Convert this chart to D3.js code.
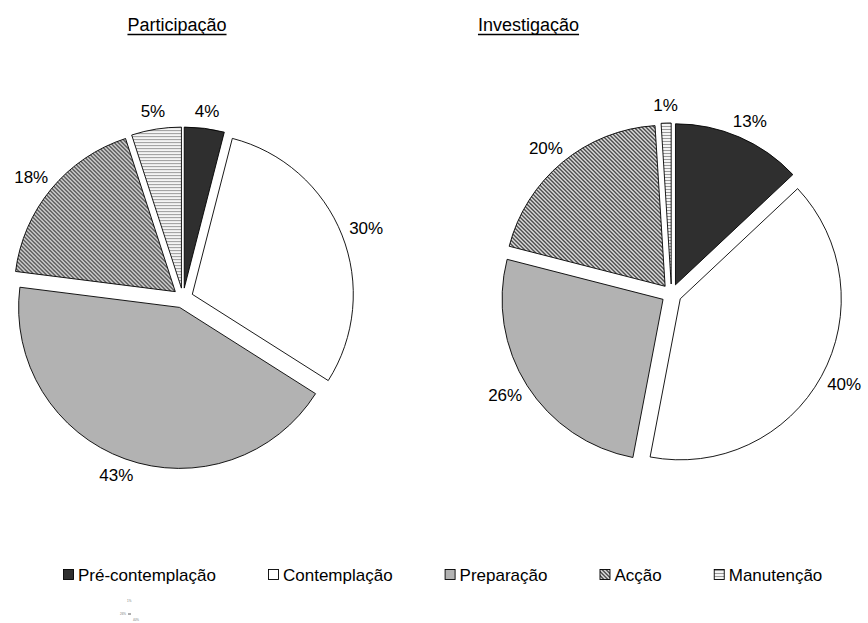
<!DOCTYPE html>
<html>
<head>
<meta charset="utf-8">
<script src="https://cdn.jsdelivr.net/npm/d3@7"></script>
<style>
  html, body { margin: 0; padding: 0; background: #fff; }
  svg { display: block; font-family: "Liberation Sans", Arial, sans-serif; }
</style>
</head>
<body>
<svg id="chart" width="868" height="623"></svg>
<script>
// Stages of change, share of respondents (%)
const stages = ["Pré-contemplação", "Contemplação", "Preparação", "Acção", "Manutenção"];
const participacao = [4, 30, 43, 18, 5];
const investigacao = [13, 40, 26, 20, 1];
const titles = ["Participação", "Investigação"];
const miniLabels = ["1%", "26%", "40%"];

const svg = d3.select("#chart");
const defs = svg.append("defs");

// fill patterns
const hatch = defs.append("pattern")
  .attr("id", "hatch").attr("patternUnits", "userSpaceOnUse")
  .attr("width", 4).attr("height", 4);
hatch.append("rect").attr("width", 4).attr("height", 4).attr("fill", "#fff");
hatch.append("path")
  .attr("d", "M-1,-1 L5,5 M-1,3 L1,5 M3,-1 L5,1")
  .attr("stroke", "#2a2a2a").attr("stroke-width", 1.4);

const hlines = defs.append("pattern")
  .attr("id", "hlines").attr("patternUnits", "userSpaceOnUse")
  .attr("width", 4).attr("height", 3);
hlines.append("rect").attr("width", 4).attr("height", 3).attr("fill", "#f4f4f4");
hlines.append("rect").attr("y", 1).attr("width", 4).attr("height", 1).attr("fill", "#9a9a9a");

const fills = d3.scaleOrdinal()
  .domain(stages)
  .range(["#2f2f2f", "#ffffff", "#b2b2b2", "url(#hatch)", "url(#hlines)"]);

const radius = 161;
const explode = 10;
const labelPad = 9;
const fontSize = 17;

const pie = d3.pie().sort(null).value(d => d.value).startAngle(0).endAngle(2 * Math.PI);
const arc = d3.arc().innerRadius(0).outerRadius(radius);

function drawPie(values, cx, cy) {
  const data = stages.map((s, i) => ({ stage: s, value: values[i] }));
  const g = svg.append("g").attr("transform", `translate(${cx},${cy})`);
  const arcs = pie(data);

  arcs.forEach(a => {
    const mid = (a.startAngle + a.endAngle) / 2;
    const dx = Math.sin(mid), dy = -Math.cos(mid);
    g.append("path")
      .attr("d", arc(a))
      .attr("transform", `translate(${explode * dx},${explode * dy})`)
      .attr("fill", fills(a.data.stage))
      .attr("stroke", "#000")
      .attr("stroke-width", 0.9)
      .attr("stroke-linejoin", "miter");

    const t = g.append("text")
      .attr("font-size", fontSize)
      .attr("text-anchor", "middle")
      .attr("dominant-baseline", "central")
      .attr("fill", "#000")
      .text(a.data.value + "%");
    const hw = t.node().getComputedTextLength() / 2;
    const hh = fontSize / 2;
    const rr = radius + explode + labelPad;
    t.attr("x", rr * dx + hw * dx).attr("y", rr * dy + hh * dy);
  });
}

drawPie(participacao, 183, 298);
drawPie(investigacao, 671.5, 294);

// underlined titles
const titleX = [177, 528.5];
titles.forEach((t, i) => {
  const txt = svg.append("text")
    .attr("x", titleX[i]).attr("y", 31)
    .attr("text-anchor", "middle")
    .attr("font-size", 18)
    .attr("fill", "#000")
    .text(t);
  const w = txt.node().getComputedTextLength();
  svg.append("line")
    .attr("x1", titleX[i] - w / 2).attr("x2", titleX[i] + w / 2)
    .attr("y1", 34.5).attr("y2", 34.5)
    .attr("stroke", "#000").attr("stroke-width", 1.3);
});

// legend
const legend = svg.append("g").attr("transform", "translate(63,575)");
let lx = 0;
stages.forEach(s => {
  const item = legend.append("g").attr("transform", `translate(${lx},0)`);
  item.append("rect")
    .attr("x", 0.5).attr("y", -5.5).attr("width", 10).attr("height", 10)
    .attr("fill", fills(s)).attr("stroke", "#000").attr("stroke-width", 0.9);
  const t = item.append("text")
    .attr("x", 15).attr("y", 0)
    .attr("dominant-baseline", "central")
    .attr("font-size", fontSize)
    .attr("fill", "#000")
    .text(s);
  lx += 15 + t.node().getComputedTextLength() + 52;
});

// tiny stray labels near the lower-left corner
const mini = svg.append("g").attr("fill", "#777").attr("font-size", 3);
mini.append("text").attr("x", 127).attr("y", 602).text(miniLabels[0]);
mini.append("text").attr("x", 120).attr("y", 615).text(miniLabels[1]);
mini.append("line").attr("x1", 128).attr("x2", 131).attr("y1", 614).attr("y2", 614)
  .attr("stroke", "#333").attr("stroke-width", 0.8);
mini.append("text").attr("x", 133).attr("y", 621).text(miniLabels[2]);
</script>
</body>
</html>
